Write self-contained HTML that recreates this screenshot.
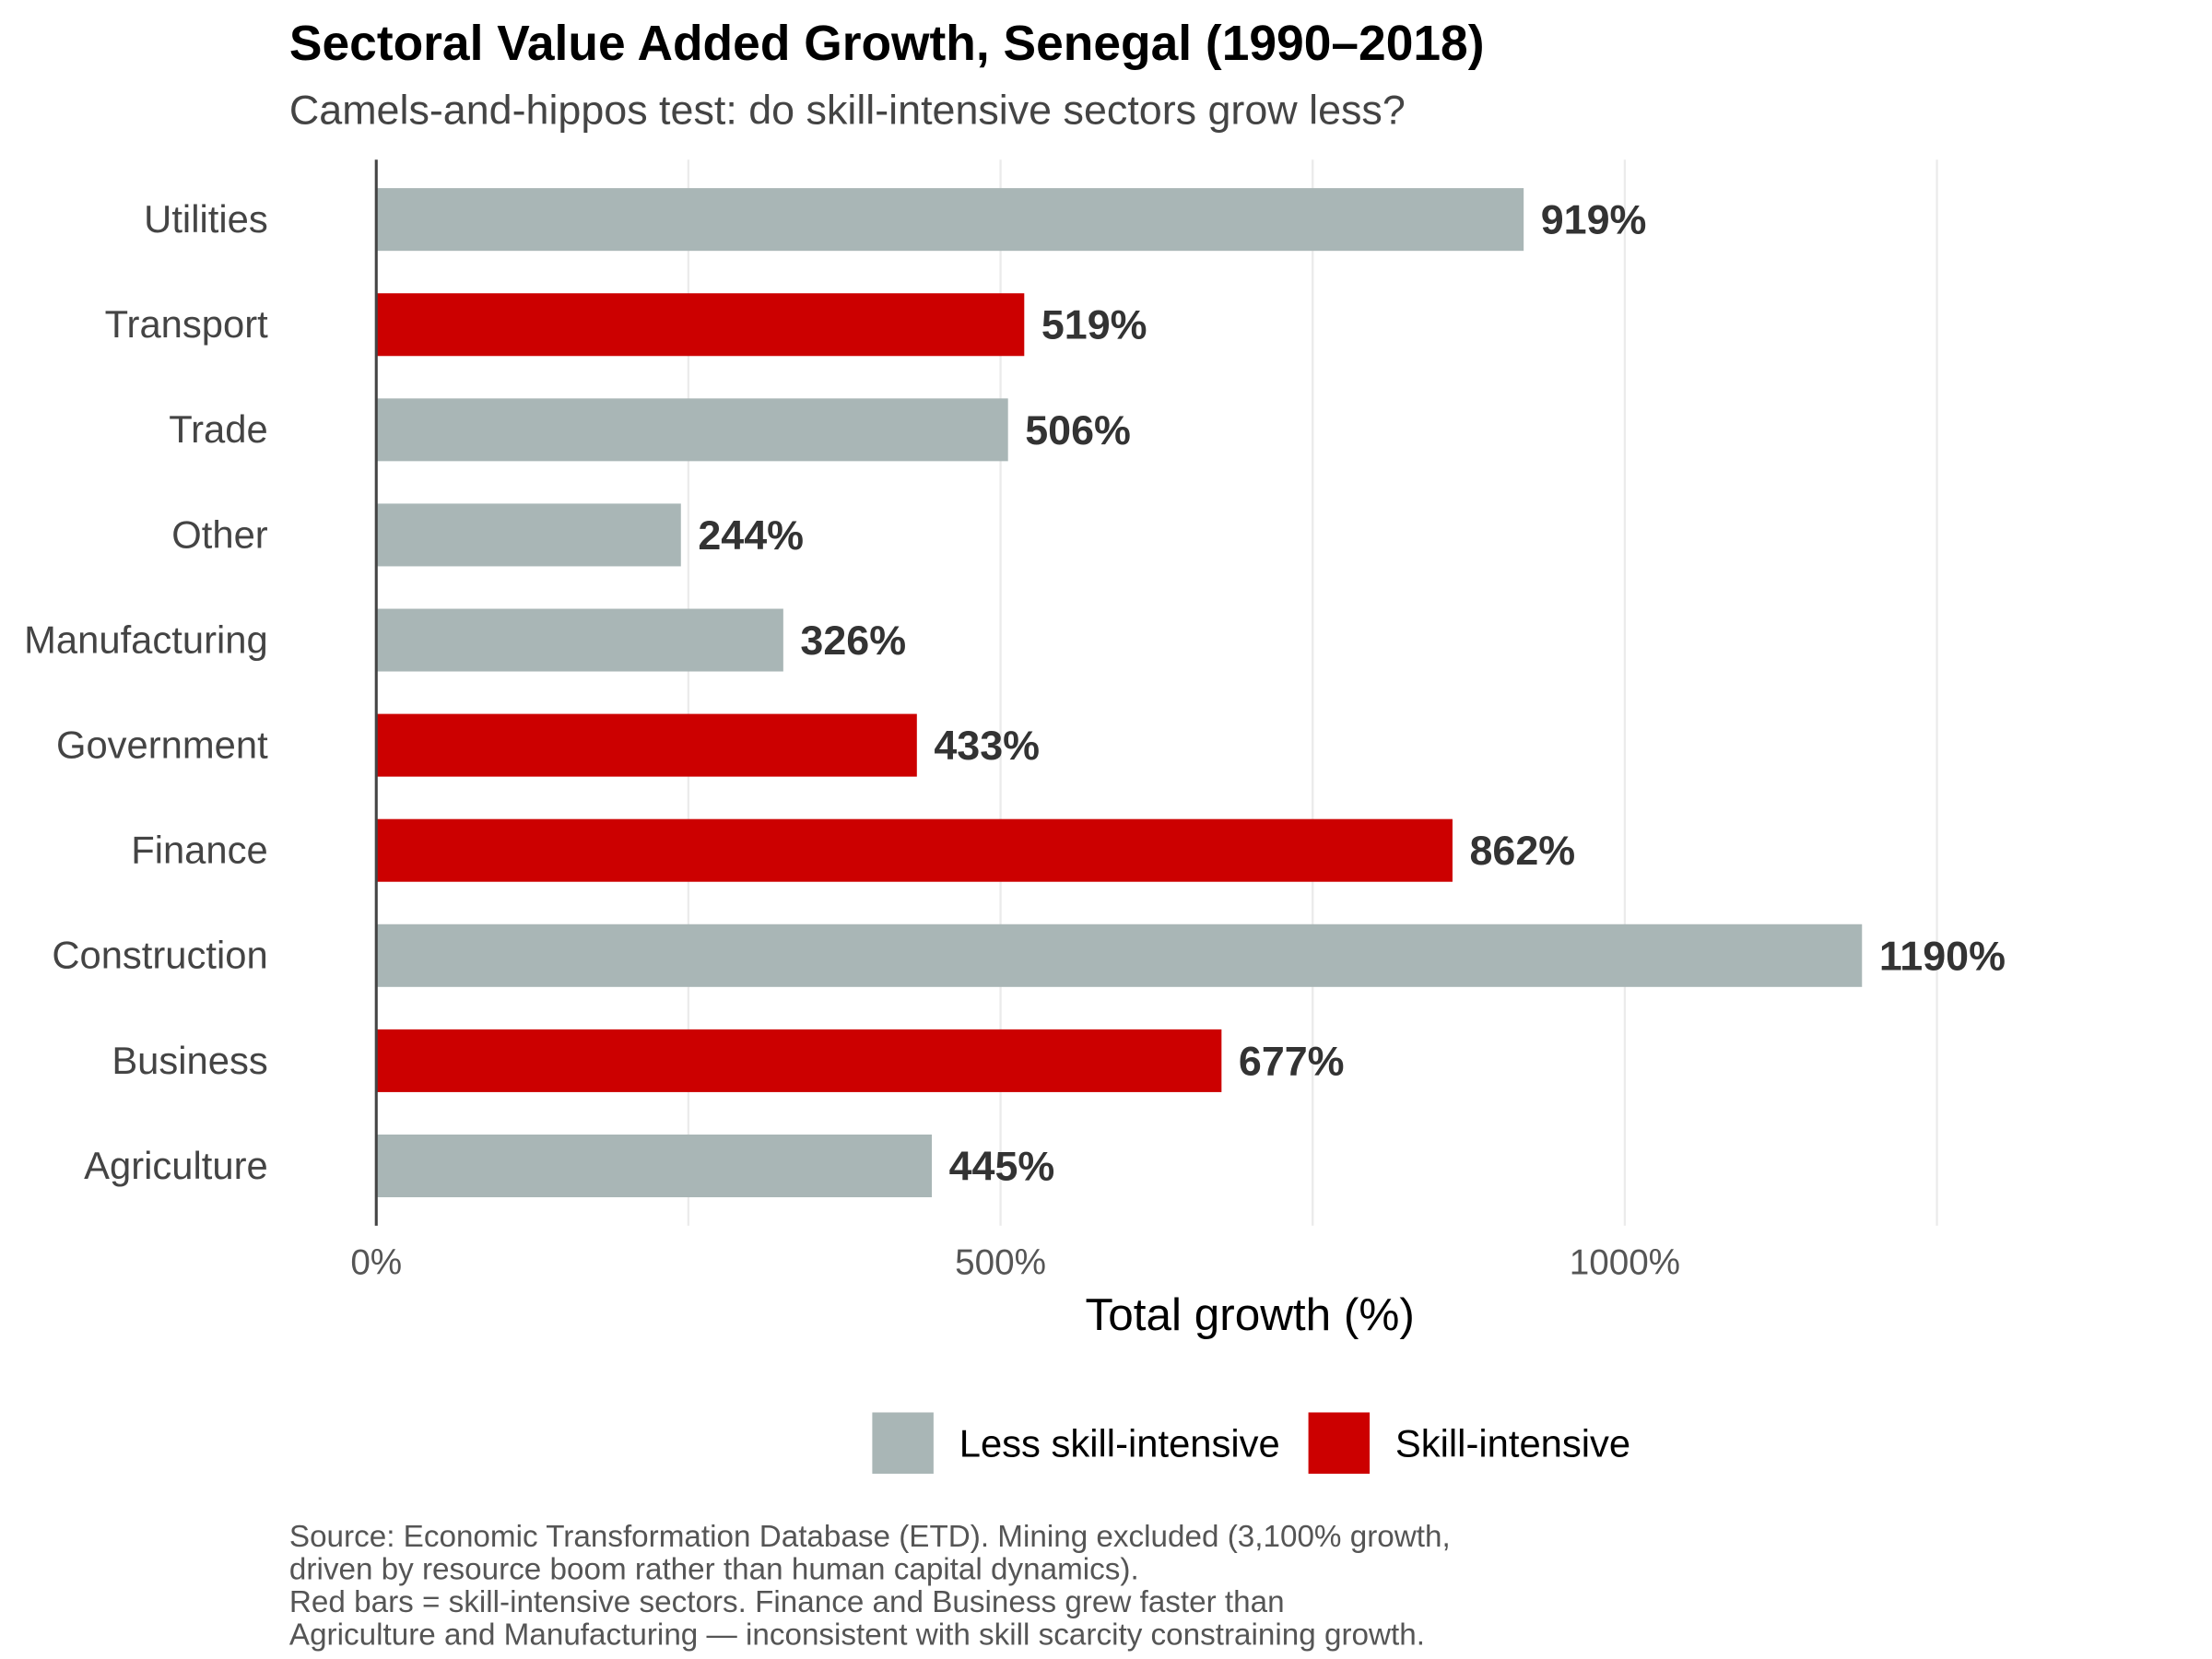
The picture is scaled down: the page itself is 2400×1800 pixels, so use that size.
<!DOCTYPE html>
<html><head><meta charset="utf-8"><style>
html,body{margin:0;padding:0;background:#fff;}
svg{display:block;font-family:"Liberation Sans",sans-serif;}
</style></head><body>
<svg id="chart" width="2400" height="1800" viewBox="0 0 1552 1164" xmlns="http://www.w3.org/2000/svg">
<text x="203" y="42" font-size="34.5" font-weight="bold" fill="#000">Sectoral Value Added Growth, Senegal (1990–2018)</text>
<text x="203" y="87" font-size="29" fill="#444">Camels-and-hippos test: do skill-intensive sectors grow less?</text>
<g id="grid"></g>
<g id="bars"></g>
<line x1="264" y1="112" x2="264" y2="860" stroke="#444" stroke-width="2"/>
<g id="ticks"></g>
<text x="877" y="933" font-size="32" text-anchor="middle" fill="#000">Total growth (%)</text>
<g>
<rect x="612" y="991" width="43" height="43" fill="#a9b6b6"/>
<text x="673" y="1022" font-size="27" fill="#000">Less skill-intensive</text>
<rect x="918" y="991" width="43" height="43" fill="#cc0000"/>
<text x="979" y="1022" font-size="27" fill="#000">Skill-intensive</text>
</g>
<g font-size="21.5" fill="#555">
<text x="203" y="1085">Source: Economic Transformation Database (ETD). Mining excluded (3,100% growth,</text>
<text x="203" y="1108">driven by resource boom rather than human capital dynamics).</text>
<text x="203" y="1131">Red bars = skill-intensive sectors. Finance and Business grew faster than</text>
<text x="203" y="1154">Agriculture and Manufacturing — inconsistent with skill scarcity constraining growth.</text>
</g>
</svg>
<script>
const categories = ["Utilities","Transport","Trade","Other","Manufacturing","Government","Finance","Construction","Business","Agriculture"];
const values = [919,519,506,244,326,433,862,1190,677,445];
const skillIntensive = [false,true,false,false,false,true,true,false,true,false];
const gridValues = [250,500,750,1000,1250];
const tickValues = [0,500,1000];
const tickLabels = ["0%","500%","1000%"];

const NS="http://www.w3.org/2000/svg";
function x(v){return 264 + v*0.876;}
function y(i){return 154 + i*73.78;}
function mk(tag,attrs,parent){const e=document.createElementNS(NS,tag);for(const k in attrs)e.setAttribute(k,attrs[k]);parent.appendChild(e);return e;}
const grid=document.getElementById('grid'),bars=document.getElementById('bars'),ticks=document.getElementById('ticks');
gridValues.forEach(v=>{
  const l=mk('line',{x1:x(v),x2:x(v),y1:112,y2:860,stroke:'#ebebeb','stroke-width':1.5},grid);
  
  
});
tickValues.forEach((v,i)=>{
  const t=mk('text',{x:x(v),y:894,'font-size':25,'text-anchor':'middle',fill:'#555'},ticks);
  t.textContent=tickLabels[i];
  
  
});
categories.forEach((c,i)=>{
  const cy=y(i);
  const r=mk('rect',{x:x(0),y:cy-22,width:x(values[i])-x(0),height:44,fill:skillIntensive[i]?'#cc0000':'#a9b6b6'},bars);
  
  
  const lab=mk('text',{x:188,y:cy+9,'font-size':27,'text-anchor':'end',fill:'#444'},bars);
  lab.textContent=c;
  
  
  const vl=mk('text',{x:x(values[i])+12,y:cy+10,'font-size':29,'font-weight':'bold',fill:'#333'},bars);
  vl.textContent=values[i]+'%';
  
  
});
</script>
</body></html>
